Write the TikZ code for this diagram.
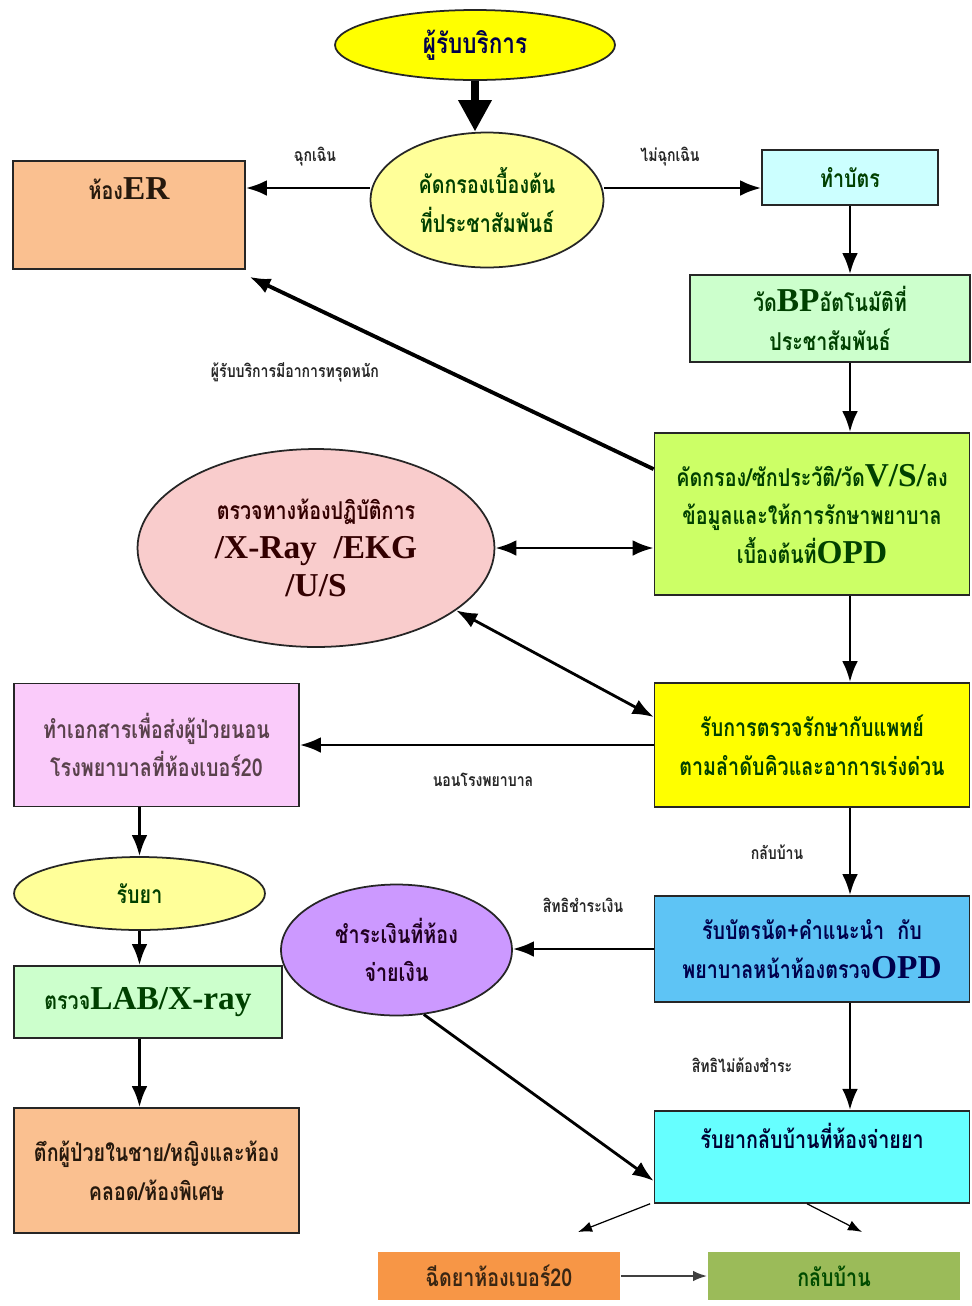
\documentclass[tikz,border=0pt]{standalone}
\usepackage{fontspec}
\setmainfont{Liberation Serif}
\newfontfamily\thaifont[Script=Thai,FakeStretch=0.8]{Loma}
\newfontfamily\latinfont{Liberation Serif}
\newcommand{\en}[1]{{\latinfont\bfseries\fontsize{19}{22}\selectfont #1}}
\usetikzlibrary{shapes, arrows, arrows.meta, positioning}
\definecolor{amarillo}{HTML}{FFFF00}
\definecolor{amarilloclaro}{HTML}{FFFF99}
\definecolor{naranjaclaro}{HTML}{FAC090}
\definecolor{celeste}{HTML}{CCFFFF}
\definecolor{verdeclaro}{HTML}{CCFFCC}
\definecolor{lima}{HTML}{CCFF66}
\definecolor{rosa}{HTML}{F9CCCC}
\definecolor{rosado}{HTML}{FACBFA}
\definecolor{azul}{HTML}{5EC4F5}
\definecolor{lila}{HTML}{CC99FF}
\definecolor{turquesa}{HTML}{66FFFF}
\definecolor{naranja}{HTML}{F79646}
\definecolor{oliva}{HTML}{9BBB59}
\tikzstyle{caja} = [draw=black!85, rectangle, line width=1pt, align=center, inner sep=2pt, font=\thaifont\bfseries\fontsize{14}{22}\selectfont]
\tikzstyle{elipse} = [caja, ellipse]
\tikzstyle{flecha} = [-{Latex[length=12pt,width=9pt]}, line width=1.6pt]
\tikzstyle{doble} = [{Latex[length=12pt,width=9pt]}-{Latex[length=12pt,width=9pt]}, line width=1.6pt]
\tikzstyle{fina} = [-{Latex[length=8pt,width=6pt]}, line width=0.7pt]
\tikzstyle{etiqueta} = [font=\thaifont\bfseries\fontsize{10}{12}\selectfont, text=black!85]

\begin{document}
\begin{tikzpicture}[x=0.02cm, y=-0.02cm]
	\useasboundingbox[fill=white] (0,0) rectangle (972,1306);
	% nodos
	\node[elipse, fill=amarillo, minimum width=5.6cm, minimum height=1.4cm, text=black!70!blue, font=\thaifont\bfseries\fontsize{16}{22}\selectfont] (usuario) at (475,45) {ผู้รับบริการ};
	\node[elipse, fill=amarilloclaro, minimum width=4.66cm, minimum height=2.7cm, text=black!75!green] (tamizaje) at (487,200) {คัดกรองเบื้องต้น\\ที่ประชาสัมพันธ์};
	\node[caja, fill=naranjaclaro, anchor=north, minimum width=4.64cm, inner ysep=0pt, text height=0.78cm, text depth=1.38cm, text=black!80!brown] (er) at (129,160) {ห้อง\en{ER}};
	\node[caja, fill=celeste, minimum width=3.52cm, minimum height=1.1cm, text=black!75!green] (tarjeta) at (850,177.5) {ทำบัตร};
	\node[caja, fill=verdeclaro, minimum width=5.6cm, minimum height=1.74cm, text=black!75!green] (presion) at (830,318.5) {วัด\en{BP}อัตโนมัติที่\\ประชาสัมพันธ์};
	\node[caja, fill=lima, minimum width=6.3cm, minimum height=3.24cm, text=black!75!green] (opd) at (812,514) {คัดกรอง/ซักประวัติ/วัด\en{V/S/}ลง\\ข้อมูลและให้การรักษาพยาบาล\\เบื้องต้นที่\en{OPD}};
	\node[elipse, fill=rosa, minimum width=7.14cm, minimum height=3.96cm, text=black!80!red] (lab) at (316,548) {ตรวจทางห้องปฏิบัติการ\\\en{/X-Ray\ \ /EKG}\\\en{/U/S}};
	\node[caja, fill=amarillo, minimum width=6.3cm, minimum height=2.48cm, text=black!75!green] (medico) at (812,745) {รับการตรวจรักษากับแพทย์\\ตามลำดับคิวและอาการเร่งด่วน};
	\node[caja, fill=rosado, minimum width=5.7cm, minimum height=2.46cm, text=black!75!magenta] (ingreso) at (156.5,745) {ทำเอกสารเพื่อส่งผู้ป่วยนอน\\โรงพยาบาลที่ห้องเบอร์20};
	\node[elipse, fill=amarilloclaro, minimum width=5.02cm, minimum height=1.46cm, text=black!75!green] (farmaco) at (139.5,893.5) {รับยา};
	\node[caja, fill=verdeclaro, minimum width=5.36cm, minimum height=1.44cm, text=black!75!green] (rayos) at (148,1002) {ตรวจ\en{LAB/X-ray}};
	\node[caja, fill=naranjaclaro, minimum width=5.7cm, minimum height=2.5cm, text=black!80!brown] (sala) at (156.5,1170.5) {ตึกผู้ป่วยในชาย/หญิงและห้อง\\คลอด/ห้องพิเศษ};
	\node[caja, fill=azul, minimum width=6.3cm, minimum height=2.12cm, text=black!70!blue] (cita) at (812,949) {รับบัตรนัด+คำแนะนำ\ \ กับ\\พยาบาลหน้าห้องตรวจ\en{OPD}};
	\node[elipse, fill=lila, minimum width=4.62cm, minimum height=2.62cm, text=black!75!violet] (pago) at (396.5,950) {ชำระเงินที่ห้อง\\จ่ายเงิน};
	\node[caja, fill=turquesa, anchor=north, minimum width=6.3cm, inner ysep=0pt, text height=0.76cm, text depth=1.08cm, text=black!80!blue] (farmacia) at (812,1110) {รับยากลับบ้านที่ห้องจ่ายยา};
	\node[caja, draw=none, fill=naranja, minimum width=4.84cm, minimum height=0.96cm, text=black!70!brown] (inyeccion) at (499,1276) {ฉีดยาห้องเบอร์20};
	\node[caja, draw=none, fill=oliva, minimum width=5.04cm, minimum height=0.96cm, text=black!70!green] (casa) at (834,1276) {กลับบ้าน};
	% etiquetas
	\node[etiqueta] (lemergencia) at (315,157) {ฉุกเฉิน};
	\node[etiqueta] (lnoemergencia) at (670,157) {ไม่ฉุกเฉิน};
	\node[etiqueta] (lgrave) at (295,372) {ผู้รับบริการมีอาการทรุดหนัก};
	\node[etiqueta] (lhospital) at (483,780) {นอนโรงพยาบาล};
	\node[etiqueta] (lcasa) at (777,852) {กลับบ้าน};
	\node[etiqueta] (lpago) at (583,905) {สิทธิชำระเงิน};
	\node[etiqueta] (lsinpago) at (742,1065) {สิทธิไม่ต้องชำระ};
	\coordinate (finA) at (578,1232);
	\coordinate (finB) at (862,1232);
	% flechas
	\draw[-{Triangle[length=18pt,width=18pt]}, line width=5pt] (usuario.south) -- (usuario.south |- tamizaje.north);
	\draw[flecha] ([yshift=0.24cm]tamizaje.west) -- ([yshift=0.24cm]tamizaje.west -| er.east);
	\draw[flecha] ([yshift=0.24cm]tamizaje.east) -- ([yshift=0.24cm]tamizaje.east -| tarjeta.west);
	\draw[flecha] (tarjeta.south) -- (tarjeta.south |- presion.north);
	\draw[flecha] (presion.south -| tarjeta) -- (opd.north -| tarjeta);
	\draw[flecha, line width=2.2pt] ([yshift=-0.74cm]opd.north west) -- ([xshift=2pt,yshift=-4pt]er.south east);
	\draw[doble] (lab.east) -- (lab.east -| opd.west);
	\draw[flecha] (opd.south -| tarjeta) -- (medico.north -| tarjeta);
	\draw[doble] (lab.-24) -- ([yshift=0.56cm]medico.west);
	\draw[flecha] (medico.west) -- (ingreso.east);
	\draw[flecha] (ingreso.south -| farmaco) -- (farmaco.north);
	\draw[flecha] (farmaco.south) -- (farmaco.south |- rayos.north);
	\draw[flecha] (rayos.south -| farmaco) -- (sala.north -| farmaco);
	\draw[flecha] (medico.south -| tarjeta) -- (cita.north -| tarjeta);
	\draw[flecha] (cita.west) -- (cita.west -| pago.east);
	\draw[flecha] (cita.south -| tarjeta) -- (farmacia.north -| tarjeta);
	\draw[flecha] (pago.-67) -- ([yshift=-0.48cm]farmacia.west);
	\draw[fina] ([xshift=-2pt]farmacia.south west) -- (finA);
	\draw[fina] ([xshift=-0.1cm]farmacia.south) -- (finB);
	\draw[fina, line width=1.2pt, black!75] (inyeccion) -- (casa);
\end{tikzpicture}
\end{document}
